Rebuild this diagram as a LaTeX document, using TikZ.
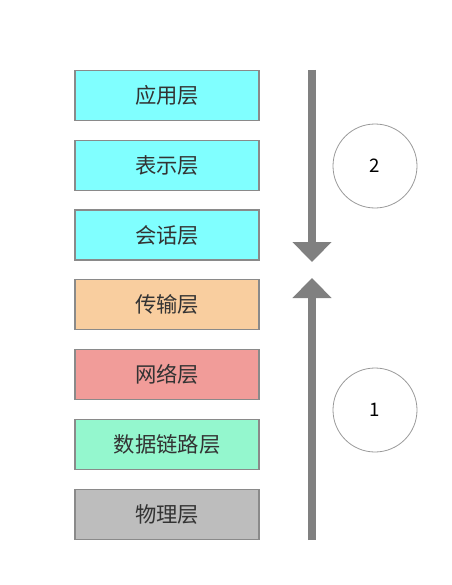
\documentclass[tikz,border=0pt]{standalone}
\usepackage{fontspec}
\newfontfamily\cjk{Noto Sans CJK SC}
\usepackage{tikz}
\usetikzlibrary{positioning,arrows.meta}
\definecolor{upper}{HTML}{80FFFF}
\definecolor{transport}{HTML}{F9CE9F}
\definecolor{network}{HTML}{F19C99}
\definecolor{datalink}{HTML}{94F7CE}
\definecolor{physical}{HTML}{BDBDBD}
\definecolor{edge}{HTML}{8A8A8A}

\begin{document}
\begin{tikzpicture}[font=\cjk,
		layer/.style={shape=rectangle,draw=edge,line width=0.9pt,minimum width=138pt,minimum height=37.5pt,inner sep=0pt,text=black!80,font=\cjk\fontsize{16}{18}\selectfont},
		flow/.style={draw=gray,line width=6pt,-{Triangle[length=15pt,width=28.5pt]}},
		step number/.style={shape=circle,draw=gray!80,line width=0.6pt,minimum size=63pt,inner sep=0pt,font=\cjk\fontsize{14}{16}\selectfont},
		node distance=13.95pt]
		\useasboundingbox (0,0) rectangle (339pt,-438.75pt);
		\node(1) at (125.25pt,-71.6pt) [layer,fill=upper] {应用层};
		\node(2) [below=of 1,layer,fill=upper] {表示层};
		\node(3) [below=of 2,layer,fill=upper] {会话层};
		\node(4) [below=of 3,layer,fill=transport] {传输层};
		\node(5) [below=of 4,layer,fill=network] {网络层};
		\node(6) [below=of 5,layer,fill=datalink] {数据链路层};
		\node(7) [below=of 6,layer,fill=physical] {物理层};
		\coordinate (down start) at (234pt,-52.5pt);
		\coordinate (down end) at (234pt,-196.5pt);
		\coordinate (up start) at (234pt,-405pt);
		\coordinate (up end) at (234pt,-208.5pt);
		\draw [flow] (down start) -- (down end);
		\draw [flow] (up start) -- (up end);
		\node(two) at (281.25pt,-124.5pt) [step number] {2};
		\node(one) at (281.25pt,-307.5pt) [step number] {1};
	\end{tikzpicture}
\end{document}
